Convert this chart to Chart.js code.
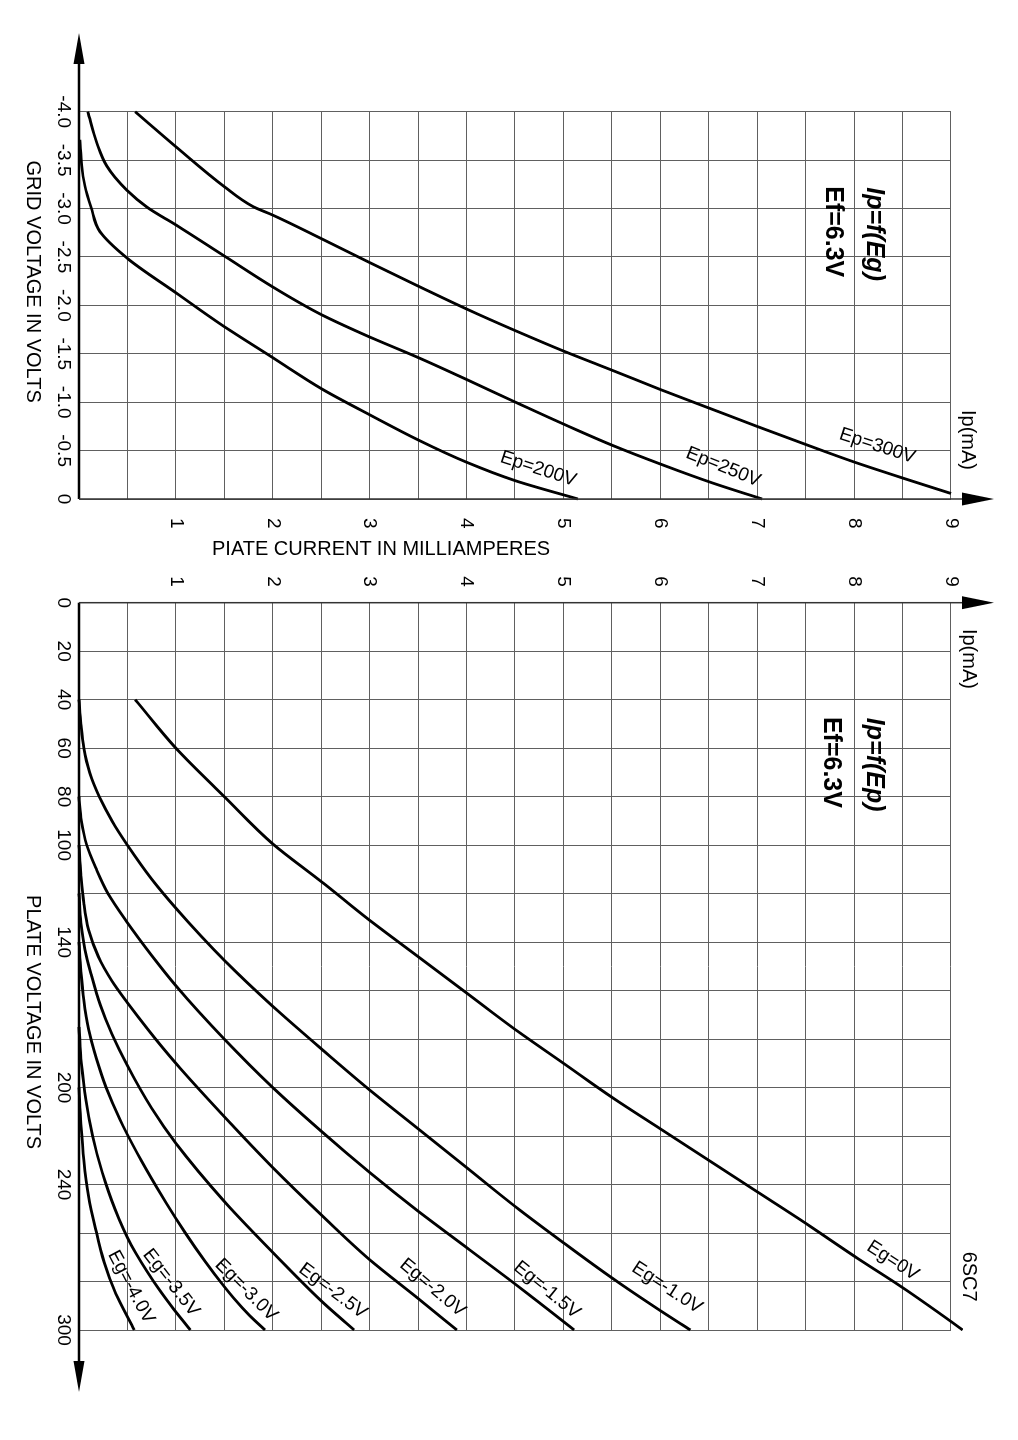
<!DOCTYPE html>
<html>
<head>
<meta charset="utf-8">
<script src="https://cdn.jsdelivr.net/npm/chart.js@4.4.0/dist/chart.umd.min.js"></script>
<style>
html,body{margin:0;padding:0;background:#fff;width:1018px;height:1440px;overflow:hidden;}
#land{position:absolute;left:0;top:0;width:1440px;height:1018px;transform-origin:0 0;transform:translateX(1018px) rotate(90deg);}
#cA{position:absolute;left:0;top:0;}
#cB{position:absolute;left:560px;top:0;}
#ipTitle{position:absolute;left:212px;top:537px;font:20px 'Liberation Sans',Arial,Helvetica,sans-serif;line-height:23px;white-space:nowrap;color:#000;}
</style>
</head>
<body>
<div id="land">
  <canvas id="cA" width="560" height="1018"></canvas>
  <canvas id="cB" width="880" height="1018"></canvas>
</div>
<div id="ipTitle">PIATE CURRENT IN MILLIAMPERES</div>
<script>
// ---------------- DATA ----------------
const gridVoltageTicks = ['-4.0','-3.5','-3.0','-2.5','-2.0','-1.5','-1.0','-0.5','0'];
const currentTicks = [1,2,3,4,5,6,7,8,9];
const plateVoltageTicks = [0,20,40,60,80,100,140,200,240,300];

// Upper chart: Ip = f(Eg) for three plate voltages (x = grid volts, y = mA)
const egEp200 = [-3.71,-3.45,-3.23,-3.015,-2.76,-2.49,-2.13,-1.78,-1.46,-1.14,-0.87,-0.61,-0.38,-0.19,0];
const ipEp200 = [0.01,0.026,0.062,0.124,0.217,0.493,1.0,1.5,2.0,2.5,3.0,3.5,4.0,4.5,5.15];

const egEp250 = [-4.0,-3.68,-3.44,-3.19,-3.015,-2.83,-2.51,-2.19,-1.905,-1.673,-1.461,-1.234,-1.002,-0.774,-0.552,-0.346,-0.165,0];
const ipEp250 = [0.09,0.183,0.286,0.493,0.70,1.0,1.5,2.0,2.5,3.0,3.5,4.0,4.5,5.0,5.51,6.04,6.54,7.05];

const egEp300 = [-4.0,-3.638,-3.225,-3.018,-2.932,-2.69,-2.442,-2.199,-1.962,-1.74,-1.528,-1.327,-1.131,-0.94,-0.749,-0.563,-0.382,-0.217,-0.057];
const ipEp300 = [0.58,1.0,1.5,1.8,2.0,2.5,3.0,3.5,4.0,4.5,5.0,5.51,6.0,6.5,7.0,7.5,8.0,8.5,9.0];

const upperNames = ['Ep=200V','Ep=250V','Ep=300V'];

// Lower chart: Ip = f(Ep) for eight grid voltages (x = plate volts, y = mA)
const epEg0 = [40,60,80,99.5,115,131,146,161,176,190,204,217,230,243,256,269.5,282.5,296.5,300];
const ipEg0 = [0.58,1.0,1.5,2.0,2.5,3.0,3.5,4.0,4.5,5.0,5.5,6.0,6.5,7.0,7.5,8.0,8.5,9.0,9.12];

const epEg10 = [40,50,60,70,80,90,100,114,126,147.5,166.5,184,201,217,233,249,264,278.5,292,300];
const ipEg10 = [0,0.02,0.05,0.11,0.21,0.34,0.5,0.75,1.0,1.5,2.0,2.5,3.0,3.5,4.0,4.5,5.0,5.5,6.0,6.31];

const epEg15 = [80,90,100,110,120,132,145.5,158,180,200,218,235,251,266,281,296.5,300];
const ipEg15 = [0,0.025,0.08,0.18,0.3,0.5,0.75,1.0,1.5,2.0,2.5,3.0,3.5,4.0,4.5,5.0,5.11];

const epEg20 = [100,112,124,135,146,156,165,176,190,212,233,252.5,271,287,300];
const ipEg20 = [0,0.02,0.05,0.1,0.2,0.34,0.5,0.71,1.0,1.5,2.0,2.5,3.0,3.5,3.9];

const epEg25 = [120,132,143,154,166,178,191,208.5,223,247,268,288,300];
const ipEg25 = [0,0.02,0.06,0.13,0.22,0.34,0.5,0.75,1.0,1.5,2.0,2.5,2.84];

const epEg30 = [140,152,164,176,188,200,213,227,241,254,266,277,287,294,300];
const ipEg30 = [0,0.02,0.05,0.1,0.18,0.28,0.42,0.6,0.8,1.0,1.2,1.4,1.6,1.76,1.92];

const epEg35 = [175,190,205,220,235,250,265,280,290,300];
const ipEg35 = [0,0.025,0.07,0.14,0.24,0.37,0.54,0.77,0.95,1.15];

const epEg40 = [200,215,230,245,258,272,285,300];
const ipEg40 = [0,0.02,0.05,0.1,0.17,0.26,0.38,0.57];

const lowerNames = ['Eg=0V','Eg=-1.0V','Eg=-1.5V','Eg=-2.0V','Eg=-2.5V','Eg=-3.0V','Eg=-3.5V','Eg=-4.0V'];

// ---------------- LABEL PLACEMENT (annotation centres in data units, angle in page degrees) ----------------
const upperLabelPlace = [
  {eg:-0.31, ip:4.74, angle:18},
  {eg:-0.33, ip:6.65, angle:22},
  {eg:-0.547, ip:8.24, angle:18}
];
const lowerLabelPlace = [
  {ep:271.5, ip:8.40, angle:33},
  {ep:282.6, ip:6.07, angle:33},
  {ep:283.5, ip:4.83, angle:39},
  {ep:282.6, ip:3.65, angle:40},
  {ep:283.9, ip:2.62, angle:37},
  {ep:283.5, ip:1.725, angle:45},
  {ep:280.5, ip:0.95, angle:52},
  {ep:282.3, ip:0.537, angle:62}
];

// ---------------- HELPERS ----------------
const FONT = "'Liberation Sans', Arial, Helvetica, sans-serif";
Chart.defaults.font.family = FONT;
Chart.defaults.color = '#000';

function pts(xs, ys) { return xs.map((x, i) => ({x: x, y: ys[i]})); }
function curve(label, xs, ys) {
  return {label: label, data: pts(xs, ys), showLine: true, borderColor: '#000', borderWidth: 2.8,
          pointRadius: 0, cubicInterpolationMode: 'monotone', fill: false, clip: 12};
}
function arrowHead(ctx, tx, ty, dx, dy, len, hw) {
  const bx = tx - dx * len, by = ty - dy * len;
  ctx.beginPath();
  ctx.moveTo(tx, ty);
  ctx.lineTo(bx - dy * hw, by + dx * hw);
  ctx.lineTo(bx + dy * hw, by - dx * hw);
  ctx.closePath();
  ctx.fill();
}

const decorPlugin = {
  id: 'decor',
  afterDraw(chart, args, o) {
    const ctx = chart.ctx, ca = chart.chartArea;
    const sx = chart.scales.x, sy = chart.scales.y;
    const px = v => sx.getPixelForValue(v), py = v => sy.getPixelForValue(v);
    ctx.save();
    ctx.fillStyle = '#000';
    // thick voltage axis along Ip = 0
    const yAx = py(0);
    const vStart = ca.left - o.voltExtend[0], vEnd = ca.right + o.voltExtend[1];
    ctx.strokeStyle = '#000';
    ctx.lineWidth = 2.6;
    ctx.beginPath();
    ctx.moveTo(vStart + (o.voltExtend[0] ? 10 : 0), yAx);
    ctx.lineTo(vEnd - (o.voltExtend[1] ? 10 : 0), yAx);
    ctx.stroke();
    if (o.voltExtend[0] > 0) arrowHead(ctx, vStart, yAx, -1, 0, 31, 5.5);
    if (o.voltExtend[1] > 0) arrowHead(ctx, vEnd, yAx, 1, 0, 31, 5.5);
    // current axis with arrow
    const xAx = px(o.currentAxisAt);
    const iTop = ca.top - o.currentExtend;
    ctx.strokeStyle = '#333';
    ctx.lineWidth = 1.5;
    ctx.beginPath(); ctx.moveTo(xAx, yAx); ctx.lineTo(xAx, iTop + 12); ctx.stroke();
    arrowHead(ctx, xAx, iTop, 0, -1, 32, 6.5);
    // texts
    for (const t of o.texts) {
      ctx.save();
      const X = px(t.x);
      const Y = t.below !== undefined ? ca.bottom + t.below : py(t.y);
      ctx.translate(X, Y);
      ctx.rotate((t.rot || 0) * Math.PI / 180);
      ctx.font = t.font;
      ctx.textAlign = t.align || 'center';
      ctx.textBaseline = 'middle';
      ctx.fillStyle = '#000';
      ctx.fillText(t.text, 0, 0);
      ctx.restore();
    }
    ctx.restore();
  }
};

const LABEL_FONT = '19px ' + FONT;
const TITLE_FONT = '20px ' + FONT;
const BIG_IT = 'italic bold 25px ' + FONT;
const BIG = 'bold 25px ' + FONT;

const gridOpts = {color: '#606060', lineWidth: 1, drawTicks: false};

// ---------------- UPPER CHART (Ip vs Eg) ----------------
const upperTexts = upperNames.map((n, i) => ({
  text: n, x: upperLabelPlace[i].eg, y: upperLabelPlace[i].ip, rot: upperLabelPlace[i].angle - 90, font: LABEL_FONT
}));
upperTexts.push({text: 'Ip(mA)', x: -0.609, y: 9.17, font: TITLE_FONT});
upperTexts.push({text: 'Ip=f(Eg)', x: -3.22, y: 8.2, font: BIG_IT, align: 'left'});
upperTexts.push({text: 'Ef=6.3V', x: -3.23, y: 7.78, font: BIG, align: 'left'});
upperTexts.push({text: 'GRID VOLTAGE IN VOLTS', x: -2.245, below: 46, font: TITLE_FONT});

new Chart(document.getElementById('cA'), {
  type: 'scatter',
  data: {datasets: [
    curve(upperNames[0], egEp200, ipEp200),
    curve(upperNames[1], egEp250, ipEp250),
    curve(upperNames[2], egEp300, ipEp300)
  ]},
  options: {
    responsive: false, animation: false, devicePixelRatio: 1,
    layout: {padding: {left: 111.7, top: 67, right: 0, bottom: 0}},
    plugins: {legend: {display: false}, tooltip: {enabled: false}, decor: {
      voltExtend: [78.7, 0], currentAxisAt: 0, currentExtend: 43, texts: upperTexts}},
    scales: {
      x: {type: 'linear', position: 'bottom', min: -4, max: 0,
          afterFit: s => { s.height = 79; },
          grid: gridOpts, border: {display: false},
          ticks: {stepSize: 0.5, padding: 4, maxRotation: 0, autoSkip: false, font: {size: 19},
                  callback: v => gridVoltageTicks[Math.round((v + 4) / 0.5)] ?? ''}},
      y: {type: 'linear', position: 'right', min: 0, max: 9,
          afterFit: s => { s.width = 61; },
          grid: gridOpts, border: {display: false},
          ticks: {stepSize: 0.5, padding: 19, autoSkip: false, font: {size: 19},
                  callback: v => currentTicks.includes(v) ? String(v) : ''}}
    }
  },
  plugins: [decorPlugin]
});

// ---------------- LOWER CHART (Ip vs Ep) ----------------
const lowerSeries = [[epEg0, ipEg0],[epEg10, ipEg10],[epEg15, ipEg15],[epEg20, ipEg20],
                     [epEg25, ipEg25],[epEg30, ipEg30],[epEg35, ipEg35],[epEg40, ipEg40]];
const lowerTexts = lowerNames.map((n, i) => ({
  text: n, x: lowerLabelPlace[i].ep, y: lowerLabelPlace[i].ip, rot: lowerLabelPlace[i].angle - 90, font: LABEL_FONT
}));
lowerTexts.push({text: 'Ip(mA)', x: 23.2, y: 9.18, font: TITLE_FONT});
lowerTexts.push({text: 'Ip=f(Ep)', x: 47.5, y: 8.2, font: BIG_IT, align: 'left'});
lowerTexts.push({text: 'Ef=6.3V', x: 47.1, y: 7.76, font: BIG, align: 'left'});
lowerTexts.push({text: '6SC7', x: 278, y: 9.18, font: TITLE_FONT});
lowerTexts.push({text: 'PLATE VOLTAGE IN VOLTS', x: 173, below: 46, font: TITLE_FONT});

new Chart(document.getElementById('cB'), {
  type: 'scatter',
  data: {datasets: lowerSeries.map((s, i) => curve(lowerNames[i], s[0], s[1]))},
  options: {
    responsive: false, animation: false, devicePixelRatio: 1,
    layout: {padding: {left: 0, top: 67, right: 110, bottom: 0}},
    plugins: {legend: {display: false}, tooltip: {enabled: false}, decor: {
      voltExtend: [0, 62], currentAxisAt: 0, currentExtend: 43, texts: lowerTexts}},
    scales: {
      x: {type: 'linear', position: 'bottom', min: 0, max: 300,
          afterFit: s => { s.height = 79; },
          grid: gridOpts, border: {display: false},
          ticks: {stepSize: 20, padding: 4, maxRotation: 0, autoSkip: false, font: {size: 19},
                  callback: v => plateVoltageTicks.includes(v) ? String(v) : ''}},
      y: {type: 'linear', position: 'left', min: 0, max: 9,
          afterFit: s => { s.width = 42.7; },
          grid: gridOpts, border: {display: false},
          ticks: {stepSize: 0.5, padding: 16, autoSkip: false, font: {size: 19},
                  callback: v => currentTicks.includes(v) ? String(v) : ''}}
    }
  },
  plugins: [decorPlugin]
});
</script>
</body>
</html>
